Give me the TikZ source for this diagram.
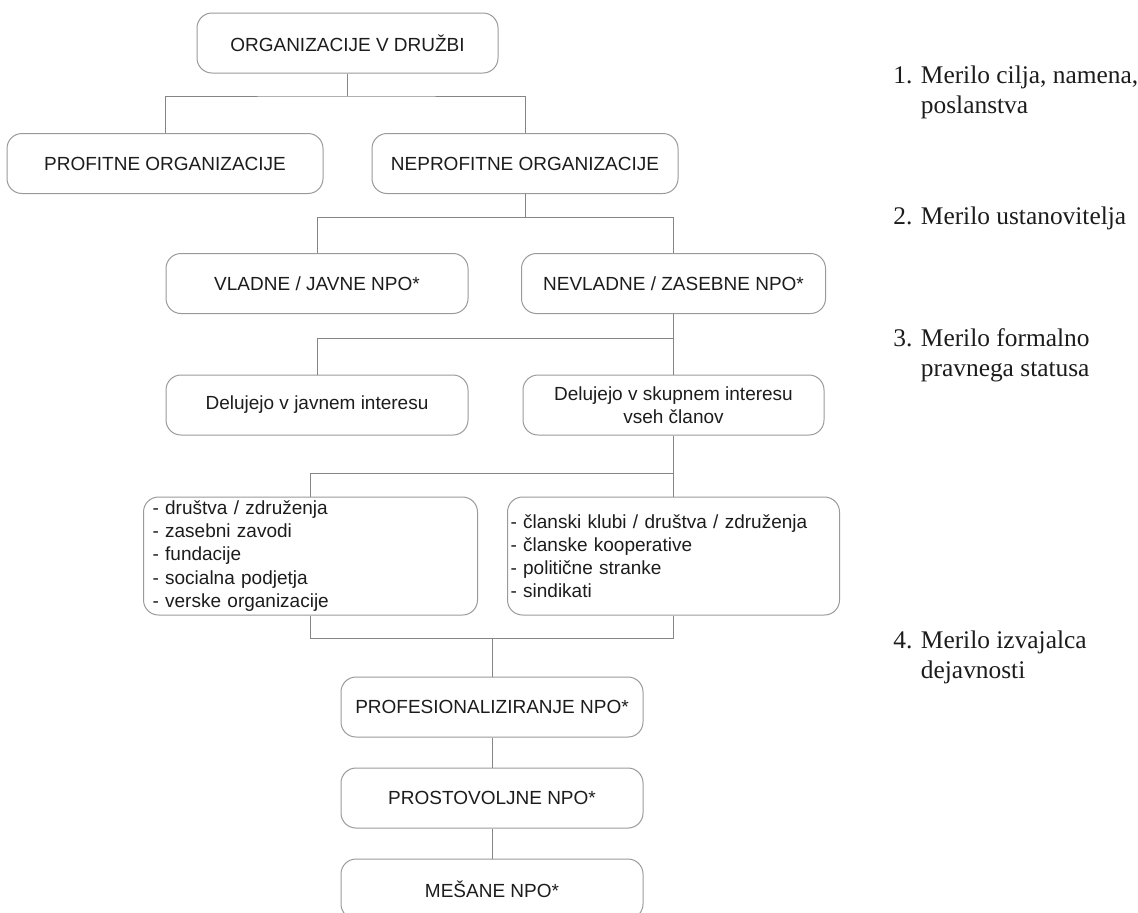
\documentclass[tikz,border=0pt]{standalone}
\usepackage{fontspec}
\setmainfont{Liberation Sans}
\newfontfamily\critfont{Liberation Serif}
\usepackage{tikz}
\usetikzlibrary{positioning}
\definecolor{Ink}{HTML}{1C1C1C}
\definecolor{Edge}{HTML}{9A9A9A}
\definecolor{Wire}{HTML}{858585}

\begin{document}
\begin{tikzpicture}[x=0.5pt, y=-0.5pt, font=\fontsize{9.5}{11.6}\selectfont, text=Ink, node distance=15pt]
\tikzset{box/.style={draw=Edge, line width=0.5pt, rounded corners=7.5pt, minimum width=151pt, minimum height=30pt, inner sep=0pt, align=center}, listl/.style={box, minimum height=59pt, text width=158pt, inner xsep=4.5pt, align=left}, listr/.style={listl, text width=163pt, inner xsep=1.5pt}, crit/.style={anchor=west, align=left, inner sep=0pt, font=\critfont\fontsize{12.7}{15}\selectfont}, link/.style={draw=Wire, line width=0.5pt}}
\useasboundingbox (0,0) rectangle (1138,912);
\node[box, minimum width=150.5pt] (top) at (347.5,43) {ORGANIZACIJE V DRUŽBI};
\node[box, minimum width=158pt] (profit) at (165,163.5) {PROFITNE ORGANIZACIJE};
\node[box, minimum width=153pt] (neprofit) at (525,163.5) {NEPROFITNE ORGANIZACIJE};
\node[box] (vladne) at (317,283.5) {VLADNE / JAVNE NPO*};
\node[box, minimum width=152pt] (nevladne) at (673.5,283.5) {NEVLADNE / ZASEBNE NPO*};
\node[box] (javni) at (317,405) {Delujejo v javnem interesu};
\node[box, minimum width=150.5pt] (skupni) at (673.5,405) {Delujejo v skupnem interesu\\vseh članov};
\node[listl] (drustva) at (310.5,556) {- društva / združenja\\- zasebni zavodi\\- fundacije\\- socialna podjetja\\- verske organizacije};
\node[listr] (clanski) at (673.5,556) {- članski klubi / društva / združenja\\- članske kooperative\\- politične stranke\\- sindikati};
\node[box] (prof) at (492,707) {PROFESIONALIZIRANJE NPO*};
\node[box, below=of prof] (prost) {PROSTOVOLJNE NPO*};
\node[box, below=of prost] (mesane) {MEŠANE NPO*};
\node[crit] (c1) at (893,92) {1. Merilo cilja, namena,\\\hphantom{1. }poslanstva};
\node[crit] (c2) at (893,218) {2. Merilo ustanovitelja};
\node[crit] (c3) at (893,355) {3. Merilo formalno\\\hphantom{3. }pravnega statusa};
\node[crit] (c4) at (893,657) {4. Merilo izvajalca\\\hphantom{4. }dejavnosti};
\coordinate (j1) at (347.5,96);
\coordinate (j2) at (525,217);
\coordinate (j3) at (673.5,338);
\coordinate (j4) at (673.5,473);
\coordinate (j5) at (492,638);
\draw[link] (top) -- (j1);
\draw[link] (profit.north) |- (j1) -| (neprofit.north);
\draw[link] (neprofit) -- (j2);
\draw[link] (vladne.north) |- (j2) -| (nevladne.north);
\draw[link] (nevladne) -- (skupni);
\draw[link] (javni.north) |- (j3);
\draw[link] (skupni) -- (clanski);
\draw[link] (drustva.north) |- (j4);
\draw[link] (drustva.south) |- (j5) -| (clanski.south);
\draw[link] (j5) -- (prof);
\foreach \a/\b in {prof/prost,prost/mesane} \draw[link] (\a)--(\b);
\end{tikzpicture}
\end{document}
